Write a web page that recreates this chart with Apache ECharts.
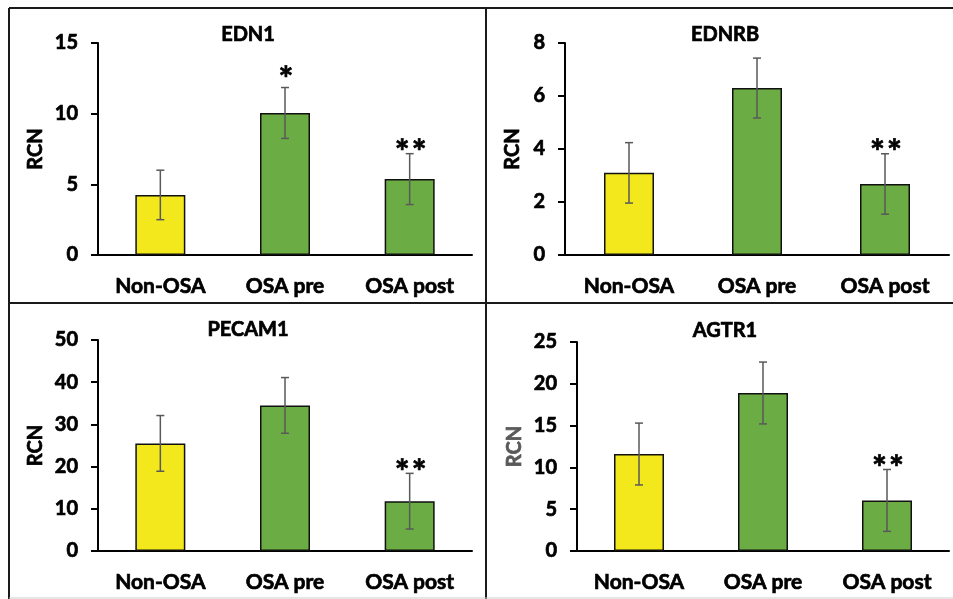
<!DOCTYPE html>
<html>
<head>
<meta charset="utf-8">
<script src="https://cdn.jsdelivr.net/npm/echarts@6/dist/echarts.min.js"></script>
<style>
html,body{margin:0;padding:0;background:#fff;}
#main{width:953px;height:599px;}
</style>
</head>
<body>
<div id="main"></div>
<script>
// ---- data ----
const categories = ['Non-OSA', 'OSA pre', 'OSA post'];
const panelTitles = ['EDN1', 'EDNRB', 'PECAM1', 'AGTR1'];
const edn1Mean = [4.25, 10.05, 5.37];
const edn1Err = [1.75, 1.8, 1.8];
const edn1Stars = ['', '*', '**'];
const ednrbMean = [3.1, 6.3, 2.68];
const ednrbErr = [1.14, 1.13, 1.14];
const ednrbStars = ['', '', '**'];
const pecam1Mean = [25.5, 34.5, 11.8];
const pecam1Err = [6.6, 6.6, 6.6];
const pecam1Stars = ['', '', '**'];
const agtr1Mean = [11.6, 18.9, 6.05];
const agtr1Err = [3.7, 3.7, 3.7];
const agtr1Stars = ['', '', '**'];
const yMax = [15, 8, 50, 25];
const yInterval = [5, 2, 10, 5];
const yAxisName = 'RCN';

// ---- layout / style ----
const FONT = 'Lato';
const YELLOW = '#F2E81C';
const GREEN = '#6CAC45';
const panels = [
  {mean: edn1Mean, err: edn1Err, stars: edn1Stars},
  {mean: ednrbMean, err: ednrbErr, stars: ednrbStars},
  {mean: pecam1Mean, err: pecam1Err, stars: pecam1Stars},
  {mean: agtr1Mean, err: agtr1Err, stars: agtr1Stars}
];
const grids = [
  {left: 98, top: 43, width: 374, height: 212},
  {left: 565, top: 43, width: 384, height: 212},
  {left: 98, top: 340, width: 374, height: 211},
  {left: 577, top: 342, width: 372, height: 209}
];
const titlePos = [{x: 248, y: 35}, {x: 725, y: 35}, {x: 248, y: 330}, {x: 725, y: 331}];
const nameGaps = [52, 42, 52, 52];
const nameColors = ['#000', '#000', '#000', '#595959'];
const boldStroke = 0.7;

const chart = echarts.init(document.getElementById('main'), null, {renderer: 'canvas'});

const option = {
  backgroundColor: '#fff',
  animation: false,
  textStyle: {fontFamily: FONT},
  grid: grids.map(g => Object.assign({containLabel: false}, g)),
  xAxis: grids.map((g, i) => ({
    type: 'category', gridIndex: i, data: categories,
    axisLine: {lineStyle: {color: '#000', width: 2}},
    axisTick: {show: false},
    axisLabel: {color: '#000', fontFamily: FONT, fontWeight: 'bold', fontSize: 21, margin: 21,
      textBorderColor: '#000', textBorderWidth: boldStroke}
  })),
  yAxis: grids.map((g, i) => ({
    type: 'value', gridIndex: i, min: 0, max: yMax[i], interval: yInterval[i],
    name: yAxisName, nameLocation: 'middle', nameGap: nameGaps[i], nameRotate: 90,
    nameTextStyle: {color: nameColors[i], fontFamily: FONT, fontWeight: 'bold', fontSize: 20,
      textBorderColor: nameColors[i], textBorderWidth: boldStroke},
    axisLine: {show: true, lineStyle: {color: '#000', width: 2}},
    axisTick: {show: true, length: 7, inside: false, lineStyle: {color: '#000', width: 2}},
    splitLine: {show: false},
    axisLabel: {color: '#000', fontFamily: FONT, fontWeight: 'bold', fontSize: 20, margin: 20,
      textBorderColor: '#000', textBorderWidth: boldStroke}
  })),
  series: [],
  graphic: []
};

panels.forEach((p, i) => {
  option.series.push({
    type: 'bar', xAxisIndex: i, yAxisIndex: i,
    data: p.mean, barWidth: 50,
    itemStyle: {
      color: params => params.dataIndex === 0 ? YELLOW : GREEN,
      borderColor: '#111', borderWidth: 1.5
    }
  });
  option.series.push({
    type: 'custom', xAxisIndex: i, yAxisIndex: i,
    data: p.mean.map((m, k) => [k, m - p.err[k], m + p.err[k]]),
    z: 10,
    renderItem: function (params, api) {
      const k = api.value(0);
      const lo = api.coord([k, api.value(1)]);
      const hi = api.coord([k, api.value(2)]);
      const cw = 4;
      const st = {stroke: '#595959', lineWidth: 1.5};
      const children = [
        {type: 'line', shape: {x1: lo[0], y1: lo[1], x2: hi[0], y2: hi[1]}, style: st},
        {type: 'line', shape: {x1: lo[0] - cw, y1: lo[1], x2: lo[0] + cw, y2: lo[1]}, style: st},
        {type: 'line', shape: {x1: hi[0] - cw, y1: hi[1], x2: hi[0] + cw, y2: hi[1]}, style: st}
      ];
      const s = p.stars[params.dataIndex];
      if (s) {
        const single = s.length === 1;
        children.push({
          type: 'text',
          style: {
            text: s.split('').join('\u200A'), x: hi[0] + 1, y: hi[1] + (single ? -8 : -1),
            align: 'center', verticalAlign: 'middle',
            font: 'bold 35px ' + FONT, fill: '#000', stroke: '#000', lineWidth: 0.7
          }
        });
      }
      return {type: 'group', children: children};
    }
  });
});

option.graphic = titlePos.map((t, i) => ({
  type: 'text', x: t.x, y: t.y,
  style: {text: panelTitles[i], font: 'bold 20px ' + FONT, fill: '#000', align: 'center', verticalAlign: 'middle',
    stroke: '#000', lineWidth: boldStroke}
}));

const lineSt = {stroke: '#1a1a1a', lineWidth: 2};
option.graphic.push(
  {type: 'line', shape: {x1: 9, y1: 8, x2: 953, y2: 8}, style: lineSt},
  {type: 'line', shape: {x1: 9, y1: 8, x2: 9, y2: 599}, style: lineSt},
  {type: 'line', shape: {x1: 9, y1: 303, x2: 953, y2: 303}, style: lineSt},
  {type: 'line', shape: {x1: 486, y1: 8, x2: 486, y2: 599}, style: lineSt},
  {type: 'line', shape: {x1: 9, y1: 598, x2: 953, y2: 598}, style: {stroke: '#cccccc', lineWidth: 1}}
);

chart.setOption(option);
</script>
</body>
</html>
